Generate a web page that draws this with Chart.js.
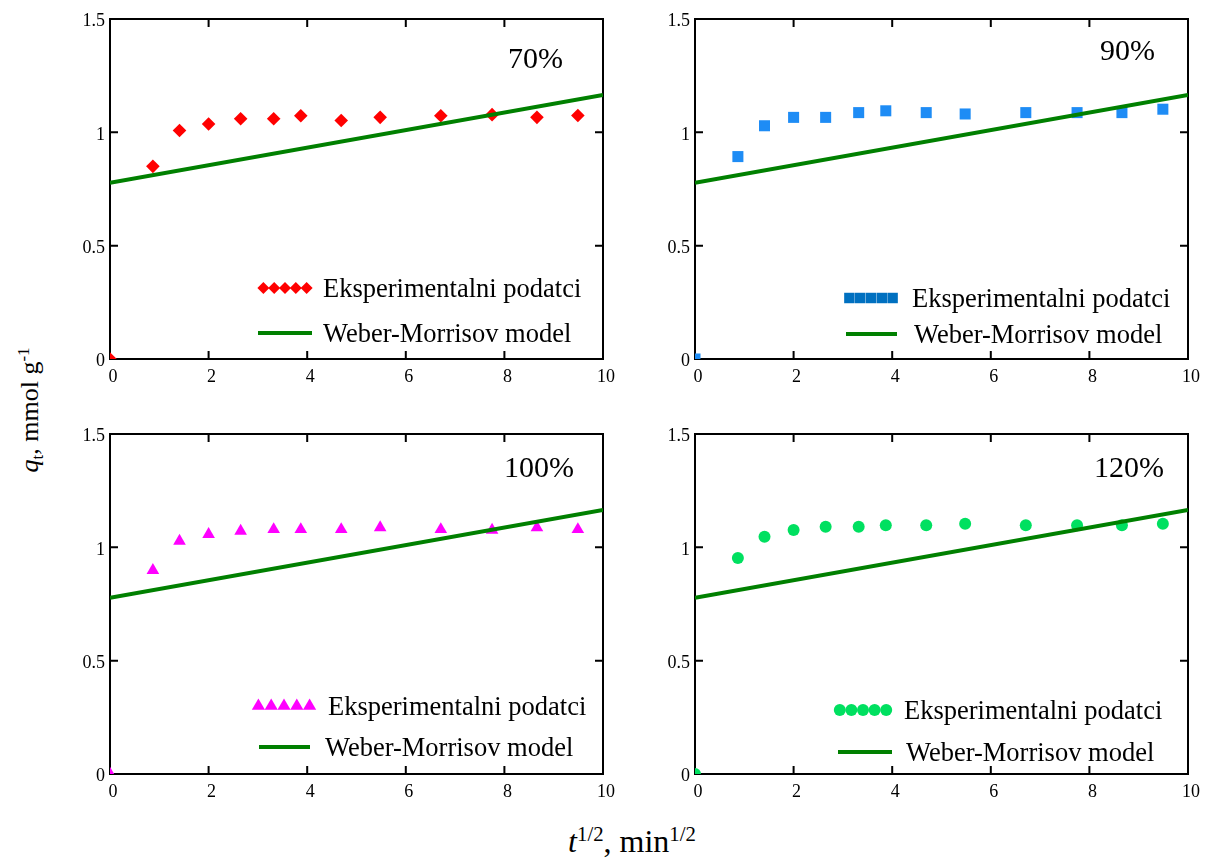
<!DOCTYPE html>
<html>
<head>
<meta charset="utf-8">
<script src="https://cdn.jsdelivr.net/npm/chart.js@4.4.0/dist/chart.umd.min.js"></script>
<style>
  body { margin: 0; background: #fff; }
  #wrap { position: relative; width: 1217px; height: 858px; background: #fff; font-family: "Liberation Serif", "Times New Roman", serif; color: #000; }
  canvas { position: absolute; }
  .ttl { position: absolute; white-space: nowrap; line-height: 1; }
  .sup { position: relative; top: -0.55em; font-size: 0.65em; }
  .sub { position: relative; top: 0.3em; font-size: 0.65em; }
  #xTitle { left: 632px; top: 825px; font-size: 32px; transform: translateX(-50%); }
  #yTitle { left: 30px; top: 410px; font-size: 26px; transform: translate(-50%, -50%) rotate(-90deg); }
</style>
</head>
<body>
<div id="wrap">
  <canvas id="c70" width="578" height="399" style="left:50px;top:0px"></canvas>
  <canvas id="c90" width="578" height="399" style="left:635px;top:0px"></canvas>
  <canvas id="c100" width="578" height="399" style="left:50px;top:415px"></canvas>
  <canvas id="c120" width="578" height="399" style="left:635px;top:415px"></canvas>
  <div class="ttl" id="xTitle"><i>t</i><span class="sup">1/2</span>, min<span class="sup">1/2</span></div>
  <div class="ttl" id="yTitle"><i>q</i><span class="sub">t</span>, mmol g<span class="sup">-1</span></div>
</div>
<script>
// t^(1/2) vrijednosti (min^1/2)
const sqrtT = [0, 0.87, 1.41, 2.0, 2.65, 3.32, 3.87, 4.69, 5.48, 6.71, 7.75, 8.66, 9.49];

// eksperimentalni podatci q_t (mmol/g)
const q70  = [0, 0.850, 1.008, 1.037, 1.060, 1.060, 1.073, 1.052, 1.066, 1.073, 1.078, 1.066, 1.074];
const q90  = [0, 0.893, 1.029, 1.066, 1.066, 1.087, 1.095, 1.087, 1.081, 1.087, 1.087, 1.087, 1.102];
const q100 = [0, 0.899, 1.028, 1.057, 1.072, 1.079, 1.079, 1.079, 1.087, 1.079, 1.076, 1.087, 1.079];
const q120 = [0, 0.953, 1.047, 1.076, 1.091, 1.091, 1.097, 1.097, 1.104, 1.097, 1.097, 1.097, 1.104];

// Weber-Morrisov model (pravac)
const modelT = [0, 10];
const modelQ = [0.777, 1.165];

const xTicks = [0, 2, 4, 6, 8, 10];
const yTicks = [0, 0.5, 1, 1.5];

const legendLabels = ['Eksperimentalni podatci', 'Weber-Morrisov model'];
const FONT = '"Liberation Serif", "Times New Roman", serif';

// okvir i unutarnje crtice na sve cetiri strane
const okvir = {
  id: 'okvir',
  beforeDatasetsDraw(chart) {
    const { ctx, chartArea: a, scales } = chart;
    ctx.save();
    ctx.strokeStyle = '#000';
    ctx.lineWidth = 2;
    ctx.strokeRect(a.left, a.top, a.right - a.left, a.bottom - a.top);
    ctx.beginPath();
    xTicks.forEach(v => {
      const px = scales.x.getPixelForValue(v);
      ctx.moveTo(px, a.bottom); ctx.lineTo(px, a.bottom - 8);
      ctx.moveTo(px, a.top); ctx.lineTo(px, a.top + 8);
    });
    yTicks.forEach(v => {
      const py = scales.y.getPixelForValue(v);
      ctx.moveTo(a.left, py); ctx.lineTo(a.left + 8, py);
      ctx.moveTo(a.right, py); ctx.lineTo(a.right - 8, py);
    });
    ctx.stroke();
    ctx.restore();
  }
};

function marker(ctx, style, r, x, y) {
  if (Chart.helpers && Chart.helpers.drawPoint) {
    Chart.helpers.drawPoint(ctx, { pointStyle: style, radius: r, rotation: 0, borderWidth: 0 }, x, y);
  } else {
    ctx.beginPath(); ctx.arc(x, y, r, 0, Math.PI * 2); ctx.fill();
  }
}

// oznaka postotka i legenda unutar grafa
const oznake = {
  id: 'oznake',
  afterDraw(chart, args, o) {
    const { ctx, chartArea: a } = chart;
    ctx.save();
    ctx.fillStyle = '#000';
    ctx.textAlign = 'right';
    ctx.textBaseline = 'alphabetic';
    ctx.font = '30px ' + FONT;
    ctx.fillText(o.label, a.left + o.labelX, a.top + o.labelY);

    const L = o.leg;
    // red 1: simboli
    ctx.fillStyle = L.color;
    for (let i = 0; i < 5; i++) {
      const cx = a.left + L.mx + L.mw * (i + 0.5) / 5;
      marker(ctx, o.style, L.r, cx, a.top + L.y1);
    }
    // red 2: linija
    ctx.strokeStyle = '#008000';
    ctx.lineWidth = 4;
    ctx.beginPath();
    ctx.moveTo(a.left + L.lx1, a.top + L.y2);
    ctx.lineTo(a.left + L.lx2, a.top + L.y2);
    ctx.stroke();

    ctx.fillStyle = '#000';
    ctx.textAlign = 'left';
    ctx.font = '26.5px ' + FONT;
    ctx.fillText(legendLabels[0], a.left + L.tx1, a.top + L.y1 + 8.5);
    ctx.fillText(legendLabels[1], a.left + L.tx2, a.top + L.y2 + 8.5);
    ctx.restore();
  }
};

function napraviGraf(id, vals, cfg) {
  const tocke = sqrtT.map((t, i) => ({ x: t, y: vals[i] }));
  const model = modelT.map((t, i) => ({ x: t, y: modelQ[i] }));
  return new Chart(document.getElementById(id), {
    type: 'scatter',
    data: {
      datasets: [
        {
          label: legendLabels[1],
          data: model,
          showLine: true,
          borderColor: '#008000',
          borderWidth: 4,
          pointRadius: 0,
          clip: 0
        },
        {
          label: legendLabels[0],
          data: tocke,
          pointStyle: cfg.style,
          pointRadius: cfg.r,
          pointBackgroundColor: cfg.color,
          pointBorderWidth: 0,
          clip: 0
        }
      ]
    },
    options: {
      responsive: false,
      animation: false,
      events: [],
      layout: { padding: { top: 19, right: 25, left: 0, bottom: 0 } },
      scales: {
        x: {
          type: 'linear',
          min: 0, max: 10,
          afterFit: s => { s.height = 40; },
          afterBuildTicks: s => { s.ticks = xTicks.map(v => ({ value: v })); },
          grid: { display: false, drawTicks: false },
          border: { display: false },
          ticks: { padding: 7, labelOffset: 3, color: '#000', font: { family: FONT, size: 18 }, maxRotation: 0 }
        },
        y: {
          type: 'linear',
          min: 0, max: 1.5,
          afterFit: s => { s.width = 60; },
          afterBuildTicks: s => { s.ticks = yTicks.map(v => ({ value: v })); },
          grid: { display: false, drawTicks: false },
          border: { display: false },
          ticks: { padding: 5, labelOffset: 2.5, color: '#000', font: { family: FONT, size: 18 }, callback: v => String(v) }
        }
      },
      plugins: {
        legend: { display: false },
        tooltip: { enabled: false },
        oznake: cfg.oznake
      }
    },
    plugins: [okvir, oznake]
  });
}

napraviGraf('c70', q70, {
  style: 'rectRot', r: 6.8, color: '#ff0000',
  oznake: { label: '70%', labelX: 453, labelY: 49, style: 'rectRot',
    leg: { color: '#ff0000', r: 6, mx: 148, mw: 54, y1: 269, lx1: 148, lx2: 202, y2: 314, tx1: 213, tx2: 213 } }
});
napraviGraf('c90', q90, {
  style: 'rect', r: 7.8, color: '#1e8cf5',
  oznake: { label: '90%', labelX: 460, labelY: 41, style: 'rect',
    leg: { color: '#0070c0', r: 7.4, mx: 149, mw: 54, y1: 279, lx1: 151, lx2: 202, y2: 315, tx1: 217, tx2: 219 } }
});
napraviGraf('c100', q100, {
  style: 'triangle', r: 7.3, color: '#ff00ff',
  oznake: { label: '100%', labelX: 464, labelY: 43, style: 'triangle',
    leg: { color: '#ff00ff', r: 7.6, mx: 142, mw: 64, y1: 272, lx1: 149, lx2: 200, y2: 313, tx1: 218, tx2: 215 } }
});
napraviGraf('c120', q120, {
  style: 'circle', r: 6, color: '#00e060',
  oznake: { label: '120%', labelX: 469, labelY: 43, style: 'circle',
    leg: { color: '#00e060', r: 6, mx: 139, mw: 58, y1: 276, lx1: 143, lx2: 197, y2: 318, tx1: 209, tx2: 211 } }
});
</script>
</body>
</html>
